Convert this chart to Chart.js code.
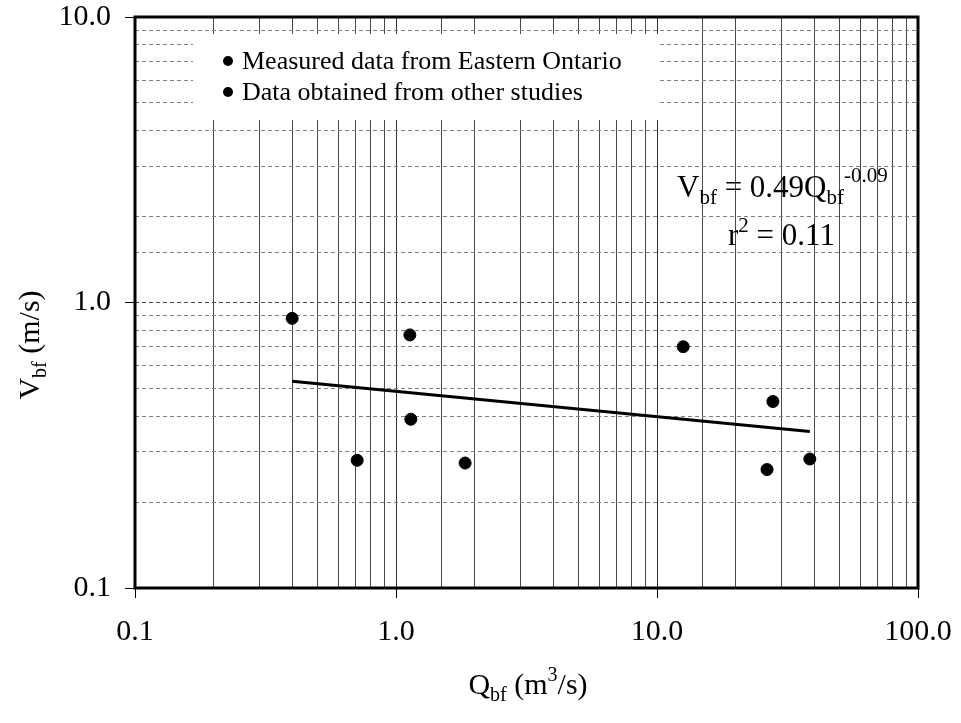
<!DOCTYPE html>
<html>
<head>
<meta charset="utf-8">
<script src="https://cdn.jsdelivr.net/npm/chart.js@4.4.0/dist/chart.umd.min.js"></script>
<style>
    html, body { margin: 0; padding: 0; background: #fff; }
    #wrap { width: 961px; height: 723px; }
</style>
</head>
<body>
<div id="wrap"><canvas id="chart" width="961" height="723"></canvas></div>
<script>
// Veriler
const ontarioQ = [0.40, 1.13, 1.14, 0.71, 1.84, 12.6];
const ontarioV = [0.88, 0.77, 0.39, 0.28, 0.274, 0.70];
const otherQ = [27.8, 26.4, 38.5];
const otherV = [0.45, 0.26, 0.283];
const fitQ = [0.40, 38.5];
const fitV = [0.53, 0.353];

const xTickValues = [0.1, 1, 10, 100];
const xTickLabels = ['0.1', '1.0', '10.0', '100.0'];
const yTickValues = [0.1, 1, 10];
const yTickLabels = ['0.1', '1.0', '10.0'];

const legendLabels = ['Measured data from Eastern Ontario', 'Data obtained from other studies'];

const FONT = '"Liberation Serif", "Times New Roman", serif';

function toPoints(xs, ys) {
    return xs.map((x, i) => ({ x: x, y: ys[i] }));
}

function isDecade(v) {
    const l = Math.log10(v);
    return Math.abs(l - Math.round(l)) < 1e-6;
}

function labelFor(values, labels, v) {
    const i = values.findIndex(t => Math.abs(t - v) / t < 1e-6);
    return i >= 0 ? labels[i] : '';
}

// Eksen boyutlarını sabitle, etiket taşma boşluğunu kaldır
function fixScale(scale, size) {
    if (scale.isHorizontal()) scale.height = size;
    else scale.width = size;
    scale.paddingTop = 0;
    scale.paddingBottom = 0;
    scale.paddingLeft = 0;
    scale.paddingRight = 0;
}

// Alt/üst simgeli metin çizimi
function drawRich(ctx, parts, x, y, align) {
    let total = 0;
    parts.forEach(p => {
        ctx.font = p.size + 'px ' + FONT;
        total += ctx.measureText(p.t).width;
    });
    let cx = align === 'center' ? x - total / 2 : x;
    parts.forEach(p => {
        ctx.font = p.size + 'px ' + FONT;
        ctx.fillText(p.t, cx, y + (p.dy || 0));
        cx += ctx.measureText(p.t).width;
    });
}

const decorPlugin = {
    id: 'decor',
    afterDraw(chart) {
        const ctx = chart.ctx;
        const a = chart.chartArea;
        ctx.save();

        // Lejant kutusu
        ctx.fillStyle = '#fff';
        ctx.fillRect(193, 34, 467, 86);
        ctx.fillStyle = '#000';
        ctx.textAlign = 'left';
        ctx.textBaseline = 'alphabetic';
        ctx.font = '26px ' + FONT;
        legendLabels.forEach((txt, i) => {
            const by = 69 + i * 31;
            ctx.beginPath();
            ctx.arc(228, by - 8, 5, 0, Math.PI * 2);
            ctx.fill();
            ctx.fillText(txt, 242, by);
        });

        // Çerçeve
        ctx.strokeStyle = '#000';
        ctx.lineWidth = 3;
        ctx.strokeRect(a.left, a.top, a.right - a.left, a.bottom - a.top);

        // Denklem
        drawRich(ctx, [
            { t: 'V', size: 31 },
            { t: 'bf', size: 21, dy: 7 },
            { t: ' = 0.49Q', size: 31 },
            { t: 'bf', size: 21, dy: 7 },
            { t: '-0.09', size: 21, dy: -15 }
        ], 677, 197, 'left');
        drawRich(ctx, [
            { t: 'r', size: 31 },
            { t: '2', size: 21, dy: -13 },
            { t: ' = 0.11', size: 31 }
        ], 728, 245, 'left');

        // Eksen başlıkları
        drawRich(ctx, [
            { t: 'Q', size: 30 },
            { t: 'bf', size: 20, dy: 7 },
            { t: ' (m', size: 30 },
            { t: '3', size: 20, dy: -13 },
            { t: '/s)', size: 30 }
        ], 528, 694, 'center');

        ctx.translate(39, 345);
        ctx.rotate(-Math.PI / 2);
        drawRich(ctx, [
            { t: 'V', size: 30 },
            { t: 'bf', size: 20, dy: 7 },
            { t: ' (m/s)', size: 30 }
        ], 0, 0, 'center');
        ctx.restore();
    }
};

new Chart(document.getElementById('chart'), {
    type: 'scatter',
    data: {
        datasets: [
            {
                label: legendLabels[0],
                data: toPoints(ontarioQ, ontarioV),
                backgroundColor: '#000',
                borderColor: '#000',
                pointRadius: 6,
                pointHoverRadius: 6
            },
            {
                label: legendLabels[1],
                data: toPoints(otherQ, otherV),
                backgroundColor: '#000',
                borderColor: '#000',
                pointRadius: 6,
                pointHoverRadius: 6
            },
            {
                type: 'line',
                label: 'fit',
                data: toPoints(fitQ, fitV),
                borderColor: '#000',
                borderWidth: 3,
                pointRadius: 0,
                fill: false
            }
        ]
    },
    options: {
        responsive: false,
        animation: false,
        layout: { padding: { top: 17, right: 43, left: 0, bottom: 0 } },
        plugins: {
            legend: { display: false },
            tooltip: { enabled: false }
        },
        scales: {
            x: {
                type: 'logarithmic',
                min: 0.1,
                max: 100,
                afterFit(scale) { fixScale(scale, 135); },
                border: { display: false },
                grid: {
                    color: ctx => isDecade(ctx.tick.value) ? '#333' : '#4a4a4a',
                    lineWidth: 1,
                    tickLength: 10,
                    tickColor: ctx => isDecade(ctx.tick.value) ? '#000' : 'rgba(0,0,0,0)'
                },
                ticks: {
                    autoSkip: false,
                    maxRotation: 0,
                    padding: 16,
                    color: '#000',
                    font: { family: FONT, size: 30 },
                    callback: v => labelFor(xTickValues, xTickLabels, v)
                }
            },
            y: {
                type: 'logarithmic',
                min: 0.1,
                max: 10,
                afterFit(scale) { fixScale(scale, 135); },
                border: { display: false, dash: [4, 3] },
                grid: {
                    color: ctx => isDecade(ctx.tick.value) ? '#444' : '#808080',
                    lineWidth: 1,
                    tickLength: 10,
                    tickColor: ctx => isDecade(ctx.tick.value) ? '#000' : 'rgba(0,0,0,0)'
                },
                ticks: {
                    autoSkip: false,
                    padding: 14,
                    color: '#000',
                    font: { family: FONT, size: 30 },
                    callback: v => labelFor(yTickValues, yTickLabels, v)
                }
            }
        }
    },
    plugins: [decorPlugin]
});
</script>
</body>
</html>
